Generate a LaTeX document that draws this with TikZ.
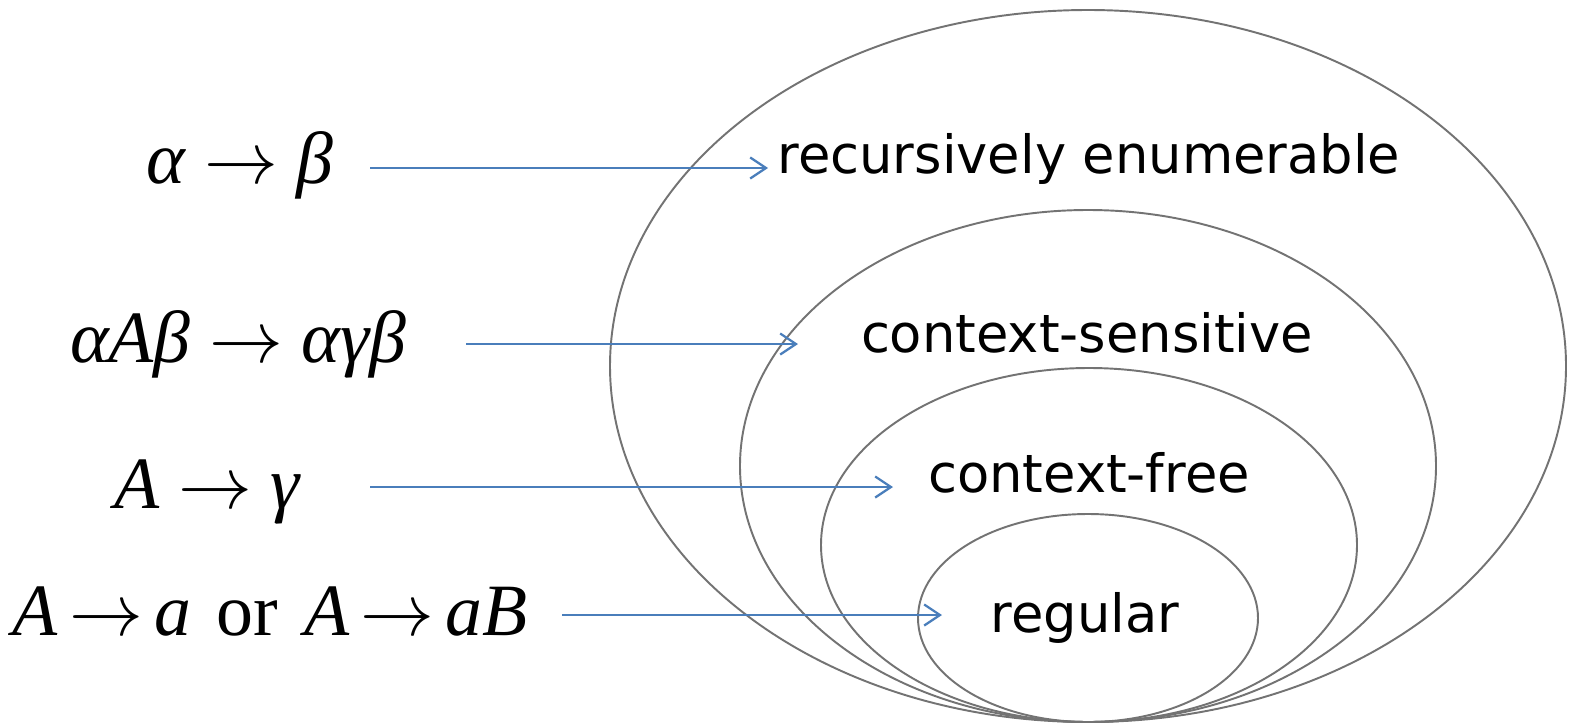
\RequirePackage{fix-cm}
\documentclass[tikz,border=0pt]{standalone}
\usepackage{fontspec}
\setmainfont{Liberation Serif}
\newfontfamily\classfont{DejaVu Sans}
\usetikzlibrary{arrows.meta}

\definecolor{linkblue}{RGB}{74,126,187}
\newcommand{\yields}[1][0.25em]{\hspace{#1}$\rightarrow$\hspace{#1}}
\tikzset{
  hierarchy/.style={draw=black!55, line width=1.1pt},
  prodrule/.style={font=\fontsize{42}{46}\selectfont, inner sep=0pt, anchor=base},
  langname/.style={font=\classfont\fontsize{30}{36}\selectfont, inner sep=0pt, anchor=base},
  link/.style={draw=linkblue, line width=1.3pt,
    -{Straight Barb[length=9pt,width=12pt,line width=1.3pt]}}
}

\begin{document}
\begin{tikzpicture}[x=0.02cm,y=-0.02cm]
        \useasboundingbox (0,0) rectangle (1569,724);

        % the four classes, each inside the next
        \draw [hierarchy] (1088,366) ellipse [x radius=478, y radius=356];
        \draw [hierarchy] (1088,466) ellipse [x radius=348, y radius=256];
        \draw [hierarchy] (1089,545) ellipse [x radius=268, y radius=177];
        \draw [hierarchy] (1088,618) ellipse [x radius=170, y radius=104];

        \node (re)  at (1089,173) [langname] {recursively enumerable};
        \node (cs)  at (1087,352) [langname] {context-sensitive};
        \node (cf)  at (1089,492) [langname] {context-free};
        \node (reg) at (1085,632) [langname] {regular};

        % grammar rules on the left
        \node (r0) at (240,183) [prodrule] {\textit{α}\yields\textit{β}};
        \node (r1) at (238,362) [prodrule] {\textit{αAβ}\yields\textit{αγβ}};
        \node (r2) at (208,508) [prodrule] {\textit{A}\yields\textit{γ}};
        \node (r3) at (270,635) [prodrule] {\textit{A}\yields[0.15em]\textit{a}\hspace{0.35em}or\hspace{0.35em}\textit{A}\yields[0.15em]\textit{aB}};

        \coordinate (t0) at (370,168);  \coordinate (h0) at (768,168);
        \coordinate (t1) at (466,344);  \coordinate (h1) at (798,344);
        \coordinate (t2) at (370,487);  \coordinate (h2) at (893,487);
        \coordinate (t3) at (562,615);  \coordinate (h3) at (942,615);

        \draw [link] (t0) -- (h0);
        \draw [link] (t1) -- (h1);
        \draw [link] (t2) -- (h2);
        \draw [link] (t3) -- (h3);
    \end{tikzpicture}
\end{document}
